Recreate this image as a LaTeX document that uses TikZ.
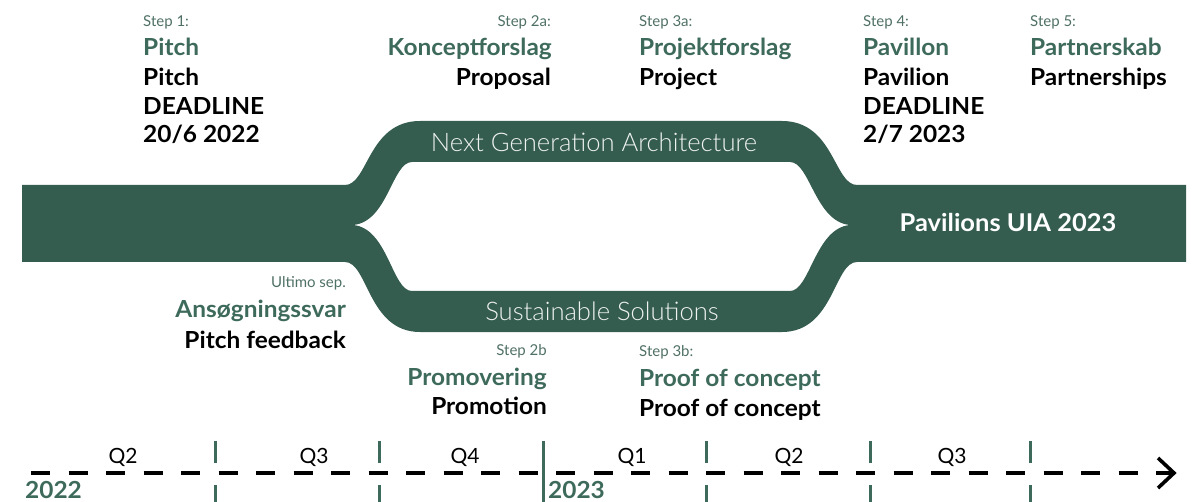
\documentclass[tikz,border=0pt]{standalone}
\usepackage{fontspec}
\setmainfont{Lato}
\newfontfamily\widelato{Lato}[FakeStretch=1.04]
\newfontfamily\lightlato{Lato Light}
\usetikzlibrary{arrows.meta}
\definecolor{band}{HTML}{345C4F}
\definecolor{titlegreen}{HTML}{3D6A5A}
\definecolor{stepgreen}{HTML}{4F7065}
\definecolor{tickgreen}{HTML}{3D6A5A}
\definecolor{bandtext}{HTML}{EEF2F0}
\tikzset{
  stepl/.style={font=\fontsize{15}{17}\selectfont, text=stepgreen, inner sep=0pt},
  titl/.style={font=\widelato\bfseries\fontsize{23.5}{27}\selectfont, text=titlegreen, inner sep=0pt},
  engl/.style={font=\widelato\bfseries\fontsize{23.5}{27}\selectfont, text=black, inner sep=0pt},
  bandl/.style={font=\lightlato\fontsize{25.6}{28}\selectfont, text=bandtext, inner sep=0pt},
  goall/.style={font=\widelato\bfseries\fontsize{24.5}{28}\selectfont, text=white, inner sep=0pt},
  quart/.style={font=\fontsize{21}{24}\selectfont, text=black, inner sep=0pt},
  yearl/.style={font=\widelato\bfseries\fontsize{23.5}{27}\selectfont, text=titlegreen, inner sep=0pt},
  axisline/.style={line width=3.6pt, black, dash pattern=on 19pt off 18.5pt},
  tickline/.style={line width=3pt, tickgreen},
}
\begin{document}
\begin{tikzpicture}[x=1pt,y=-1pt]
\useasboundingbox (0,0) rectangle (1201,502);
\clip (0,0) rectangle (1201,502);

% green band with the two branches
\fill[band, even odd rule]
  (22,185) -- (345,185) .. controls (368,185) and (368,121) .. (420,121)
  -- (782,121) .. controls (834,121) and (834,185) .. (857,185)
  -- (1186,185) -- (1186,262) -- (857,262)
  .. controls (834,262) and (834,332) .. (782,332)
  -- (420,332) .. controls (368,332) and (368,262) .. (345,262)
  -- (22,262) -- cycle
  (412,162) -- (790,162) .. controls (810,162) and (815,222) .. (850,225)
  .. controls (815,228) and (810,291) .. (790,291)
  -- (412,291) .. controls (392,291) and (388,228) .. (353,225)
  .. controls (388,222) and (392,162) .. (412,162) -- cycle;

\node[bandl, anchor=base] (nga) at (594,152) {Next Generation Architecture};
\node[bandl, anchor=base] (sus) at (602,320) {Sustainable Solutions};
\node[goall, anchor=base] (goal) at (1008,232) {Pavilions UIA 2023};

% Step 1
\node[stepl, anchor=base west] (s1) at (143,27) {Step 1:};
\node[titl, anchor=base west] (s1t) at (143,56) {Pitch};
\node[engl, anchor=base west] (s1e) at (143,86) {Pitch};
\node[engl, anchor=base west] (s1d) at (143,115) {DEADLINE};
\node[engl, anchor=base west] (s1x) at (143,143) {20/6 2022};

% Step 2a
\node[stepl, anchor=base east] (s2a) at (551,27) {Step 2a:};
\node[titl, anchor=base east] (s2at) at (552,56) {Konceptforslag};
\node[engl, anchor=base east] (s2ae) at (551,86) {Proposal};

% Step 3a
\node[stepl, anchor=base west] (s3a) at (639,27) {Step 3a:};
\node[titl, anchor=base west] (s3at) at (639,56) {Projektforslag};
\node[engl, anchor=base west] (s3ae) at (639,86) {Project};

% Step 4
\node[stepl, anchor=base west] (s4) at (863,27) {Step 4:};
\node[titl, anchor=base west] (s4t) at (863,56) {Pavillon};
\node[engl, anchor=base west] (s4e) at (863,86) {Pavilion};
\node[engl, anchor=base west] (s4d) at (863,115) {DEADLINE};
\node[engl, anchor=base west] (s4x) at (863,143) {2/7 2023};

% Step 5
\node[stepl, anchor=base west] (s5) at (1030,27) {Step 5:};
\node[titl, anchor=base west] (s5t) at (1030,56) {Partnerskab};
\node[engl, anchor=base west] (s5e) at (1030,86) {Partnerships};

% Ultimo sep.
\node[stepl, anchor=base east] (ul) at (346,288) {Ultimo sep.};
\node[titl, anchor=base east] (ult) at (346,318) {Ansøgningssvar};
\node[engl, anchor=base east] (ule) at (346,348) {Pitch feedback};

% Step 2b
\node[stepl, anchor=base east] (s2b) at (547,355) {Step 2b};
\node[titl, anchor=base east] (s2bt) at (547,385) {Promovering};
\node[engl, anchor=base east] (s2be) at (547,414) {Promotion};

% Step 3b
\node[stepl, anchor=base west] (s3b) at (639,356) {Step 3b:};
\node[titl, anchor=base west] (s3bt) at (639,386) {Proof of concept};
\node[engl, anchor=base west] (s3be) at (639,416) {Proof of concept};

% timeline
\coordinate (tl0) at (31,473);
\coordinate (tl1) at (1174,473);
\draw[axisline] (tl0) -- ([xshift=-2pt]tl1);
\draw[line width=3.6pt, black, line join=miter]
  ([xshift=-16pt,yshift=15pt]tl1) -- (tl1) -- ([xshift=-16pt,yshift=-15pt]tl1);

\foreach \x/\n in {215/a,379/b,706/d,870/e,1030/f}{
  \coordinate (tu\n) at (\x,441);
  \coordinate (tm\n) at (\x,463);
  \coordinate (tl\n) at (\x,485);
  \coordinate (tb\n) at (\x,502);
  \draw[tickline] (tu\n) -- (tm\n);
  \draw[tickline] (tl\n) -- (tb\n);
}
\coordinate (yu) at (543,441);
\coordinate (yb) at (543,502);
\draw[tickline] (yu) -- (yb);

\node[quart, anchor=base] (q2a) at (123,463) {Q2};
\node[quart, anchor=base] (q3a) at (314,463) {Q3};
\node[quart, anchor=base] (q4a) at (465,463) {Q4};
\node[quart, anchor=base] (q1b) at (632,463) {Q1};
\node[quart, anchor=base] (q2b) at (789,463) {Q2};
\node[quart, anchor=base] (q3b) at (952,463) {Q3};

\node[yearl, anchor=base west] (y22) at (25,498.5) {2022};
\node[yearl, anchor=base west] (y23) at (548,498.5) {2023};
\end{tikzpicture}
\end{document}
